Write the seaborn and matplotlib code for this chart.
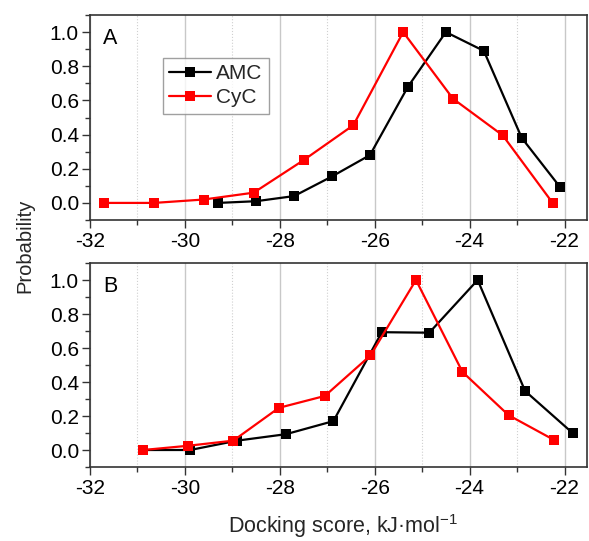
import numpy as np
import pandas as pd
import matplotlib
matplotlib.use("Agg")
import matplotlib.pyplot as plt
import seaborn as sns
from matplotlib.ticker import MultipleLocator

# Panel A data
a_amc_x = [-29.3, -28.5, -27.7, -26.9, -26.1, -25.3, -24.5, -23.7, -22.9, -22.1]
a_amc_y = [0.0, 0.01, 0.04, 0.155, 0.28, 0.68, 1.0, 0.89, 0.38, 0.095]
a_cyc_x = [-31.7, -30.65, -29.6, -28.55, -27.5, -26.45, -25.4, -24.35, -23.3, -22.25]
a_cyc_y = [0.0, 0.0, 0.02, 0.06, 0.25, 0.455, 1.0, 0.61, 0.395, 0.0]

# Panel B data
b_amc_x = [-30.88, -29.89, -28.9, -27.87, -26.87, -25.85, -24.85, -23.83, -22.83, -21.83]
b_amc_y = [0.0, 0.0, 0.055, 0.093, 0.17, 0.693, 0.69, 1.0, 0.347, 0.1]
b_cyc_x = [-30.88, -29.93, -28.98, -28.02, -27.05, -26.09, -25.13, -24.15, -23.18, -22.22]
b_cyc_y = [0.0, 0.025, 0.055, 0.248, 0.318, 0.556, 1.0, 0.459, 0.205, 0.059]

series_names = ["AMC", "CyC"]
palette = {"AMC": "#000000", "CyC": "#ff0000"}
panel_labels = ["A", "B"]

def make_df(amc_x, amc_y, cyc_x, cyc_y):
    return pd.concat([
        pd.DataFrame({"x": amc_x, "y": amc_y, "s": "AMC"}),
        pd.DataFrame({"x": cyc_x, "y": cyc_y, "s": "CyC"}),
    ], ignore_index=True)

dfs = [make_df(a_amc_x, a_amc_y, a_cyc_x, a_cyc_y),
       make_df(b_amc_x, b_amc_y, b_cyc_x, b_cyc_y)]

TICK_FS = 15
sns.set_theme(style="white")
plt.rcParams["font.family"] = ["Liberation Sans", "DejaVu Sans"]
plt.rcParams["mathtext.fontset"] = "custom"
plt.rcParams["mathtext.rm"] = "Liberation Sans"
plt.rcParams["font.size"] = 15
plt.rcParams["xtick.labelsize"] = TICK_FS
plt.rcParams["ytick.labelsize"] = TICK_FS
plt.rcParams["legend.fontsize"] = 15

W, H = 589, 541
fig = plt.figure(figsize=(W / 100, H / 100), dpi=100)
rects = [
    (90 / W, 1 - 220 / H, (587 - 90) / W, (220 - 15) / H),
    (90 / W, 1 - 467 / H, (587 - 90) / W, (467 - 263) / H),
]
XLIM = (-32, -32 + (587 - 90) / 47.45)
YLIM = (-0.1, 1.1)

for i, (df, rect) in enumerate(zip(dfs, rects)):
    ax = fig.add_axes(rect)
    ax.set_xlim(*XLIM)
    ax.set_ylim(*YLIM)
    ax.xaxis.set_major_locator(MultipleLocator(2))
    ax.xaxis.set_minor_locator(MultipleLocator(1))
    ax.yaxis.set_major_locator(MultipleLocator(0.2))
    ax.yaxis.set_minor_locator(MultipleLocator(0.1))
    ax.grid(True, which="major", axis="x", color="#c8c8c8", linewidth=1.0, linestyle="-")
    ax.grid(True, which="minor", axis="x", color="#d0d0d0", linewidth=0.8, linestyle=":")
    ax.grid(False, axis="y", which="both")
    ax.set_axisbelow(True)
    sns.lineplot(data=df, x="x", y="y", hue="s", hue_order=series_names,
                 palette=palette, marker="s", markersize=7.5, markeredgewidth=0,
                 linewidth=1.6, sort=False, estimator=None, ax=ax,
                 legend=(i == 0))
    ax.tick_params(axis="both", which="major", direction="out", length=6, width=1,
                   color="#333333", labelsize=TICK_FS, bottom=True, left=True,
                   labelcolor="black")
    ax.tick_params(axis="x", which="major", pad=2.5)
    ax.tick_params(axis="y", which="major", pad=2)
    ax.tick_params(axis="both", which="minor", direction="out", length=3.5, width=1,
                   color="#333333", bottom=True, left=True)
    yt = ax.get_yticks()
    ax.set_yticks(yt)
    ax.set_yticklabels([f"{v:.1f}" if -0.05 < v < 1.05 else "" for v in yt], fontsize=TICK_FS)
    xt = ax.get_xticks()
    ax.set_xticks(xt)
    ax.set_xticklabels([f"{int(round(v))}" for v in xt], fontsize=TICK_FS)
    ax.set_xlim(*XLIM)
    ax.set_ylim(*YLIM)
    for side in ["left", "bottom", "top", "right"]:
        ax.spines[side].set_color("#333333")
        ax.spines[side].set_linewidth(1.2)
    ax.set_xlabel("")
    ax.set_ylabel("")
    ax.text(0.027, 0.935, panel_labels[i], transform=ax.transAxes, fontsize=15.5,
            va="top", ha="left", color="black")
    if i == 0:
        leg = ax.legend(loc="upper left", bbox_to_anchor=((163 - 90) / (587 - 90), 1 - (58 - 15) / (220 - 15)),
                        frameon=True, fancybox=False, fontsize=15, handlelength=2.0,
                        borderpad=0.3, labelspacing=0.25, handletextpad=0.25, borderaxespad=0)
        leg.get_frame().set_edgecolor("#888888")
        leg.get_frame().set_linewidth(1.0)

fig.text(25 / W, 1 - 246 / H, "Probability", rotation=90, ha="center", va="center", fontsize=14.5)
fig.text(343 / W, 1 - 533 / H, "Docking score, kJ\u00b7mol$^{\\mathregular{-1}}$", ha="center", va="baseline", fontsize=15.5)

fig.savefig("out.png", dpi=100)
